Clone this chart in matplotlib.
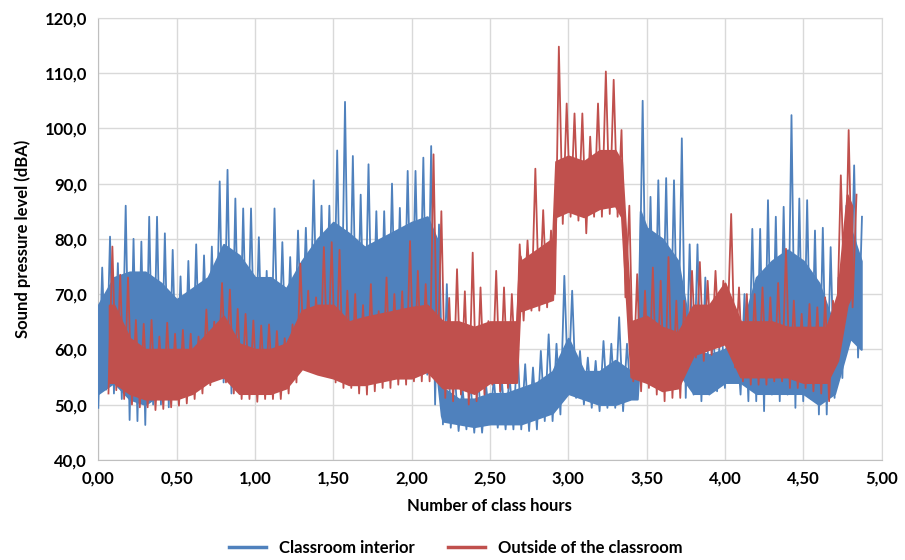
import matplotlib.pyplot as plt
from matplotlib.ticker import FuncFormatter, MultipleLocator

plt.rcParams['font.family'] = ['Lato', 'DejaVu Sans']

# each bin is 0.05 h wide: highest and lowest reading seen in that bin
bin_w = 0.05

blue_start = 0.00
blue_hi = [74.8, 80.4, 75.6, 86.0, 80.0, 79.5, 84.0, 84.0, 81.0, 78.0,
           73.2, 76.0, 79.0, 77.0, 78.6, 90.4, 92.5, 87.3, 85.5, 85.5,
           80.3, 74.2, 85.5, 79.4, 76.7, 81.5, 82.0, 90.6, 86.0, 86.0,
           96.0, 104.8, 95.0, 88.0, 93.5, 85.0, 85.0, 90.0, 85.6, 92.3,
           92.3, 94.7, 96.8, 82.6, 71.8, 56.0, 53.0, 54.2, 54.8, 53.6,
           54.8, 54.8, 55.5, 61.0, 57.3, 56.7, 59.7, 62.7, 61.0, 73.3,
           70.6, 59.7, 58.5, 57.9, 61.5, 61.0, 65.8, 61.0, 60.0, 105.0,
           87.6, 90.6, 91.0, 90.6, 98.2, 79.0, 79.0, 73.0, 62.7, 66.4,
           67.6, 62.7, 70.0, 81.8, 81.8, 87.0, 84.0, 85.8, 102.4, 87.3,
           87.0, 81.5, 82.0, 78.5, 73.0, 86.0, 93.3, 84.0]
blue_lo = [49.4, 52.7, 52.0, 51.0, 47.2, 47.0, 46.3, 50.0, 50.0, 49.5,
           51.0, 52.0, 52.5, 53.0, 55.0, 55.0, 54.0, 52.0, 54.0, 55.0,
           55.0, 54.0, 54.0, 55.0, 55.0, 57.0, 60.0, 60.0, 58.0, 57.0,
           58.0, 58.0, 57.0, 57.0, 58.0, 58.0, 58.0, 59.0, 59.0, 60.0,
           60.0, 61.0, 55.4, 50.0, 46.4, 45.8, 45.2, 45.5, 44.9, 44.9,
           46.4, 45.8, 45.5, 45.5, 45.5, 45.2, 45.5, 47.0, 47.0, 48.2,
           52.4, 51.2, 50.0, 49.4, 48.8, 49.4, 49.4, 48.8, 51.2, 60.0,
           56.0, 56.0, 57.0, 56.0, 55.5, 51.2, 51.8, 50.6, 51.8, 52.4,
           53.0, 54.8, 51.8, 50.6, 50.6, 48.8, 51.8, 50.6, 51.8, 49.4,
           50.6, 51.0, 48.2, 48.2, 51.2, 54.8, 62.7, 58.5]

red_start = 0.065
red_hi = [78.6, 73.5, 73.0, 65.3, 64.6, 65.3, 62.3, 64.8, 62.8, 63.5,
          62.8, 62.3, 67.2, 65.0, 72.0, 70.8, 67.3, 66.4, 65.2, 64.3,
          64.5, 63.3, 62.0, 64.5, 75.5, 70.6, 69.4, 78.5, 79.4, 78.0,
          70.6, 70.0, 68.0, 71.8, 66.9, 73.0, 70.0, 70.5, 79.6, 74.2,
          71.8, 95.3, 85.0, 69.3, 74.5, 70.5, 77.5, 71.2, 65.1, 74.2,
          71.2, 70.0, 79.0, 79.7, 92.7, 85.2, 81.5, 114.8, 104.5, 102.7,
          102.7, 98.5, 104.5, 110.3, 108.8, 99.7, 86.0, 73.6, 70.6, 74.8,
          72.4, 76.7, 68.8, 68.8, 74.2, 75.8, 72.4, 74.2, 72.4, 84.5,
          71.2, 70.0, 70.0, 71.2, 69.4, 72.0, 78.2, 68.8, 66.4, 68.2,
          67.6, 69.4, 68.8, 91.5, 99.7, 88.0]
red_lo = [52.0, 52.6, 51.0, 50.0, 49.5, 49.5, 49.0, 49.2, 49.5, 49.8,
          50.2, 51.0, 52.0, 53.5, 55.0, 54.0, 52.0, 51.0, 51.0, 50.5,
          51.0, 51.0, 51.0, 52.0, 54.0, 57.0, 57.0, 56.0, 56.0, 54.0,
          53.0, 53.0, 52.0, 51.8, 52.4, 53.0, 53.0, 53.6, 53.6, 54.2,
          54.2, 54.2, 54.8, 51.2, 50.6, 51.8, 50.0, 50.6, 51.8, 53.6,
          52.4, 53.0, 54.8, 65.2, 67.0, 67.0, 67.6, 70.0, 82.7, 84.0,
          83.3, 81.0, 84.0, 84.0, 84.5, 84.0, 69.4, 54.2, 52.4, 53.0,
          51.8, 50.6, 51.2, 51.2, 59.0, 58.5, 57.9, 59.0, 60.3, 62.0,
          56.7, 54.2, 53.6, 53.6, 53.6, 54.2, 54.2, 53.0, 53.0, 53.0,
          52.4, 52.0, 50.6, 62.7, 66.4, 67.6]

# dense core of each trace (solid part under the spikes)
blue_core_x = [0.0, 0.1, 0.2, 0.3, 0.4, 0.5, 0.6, 0.7, 0.8, 0.9,
               1.0, 1.1, 1.2, 1.3, 1.4, 1.5, 1.6, 1.7, 1.8, 1.9,
               2.0, 2.1, 2.16, 2.19, 2.2, 2.3, 2.4, 2.5, 2.6, 2.7,
               2.8, 2.9, 3.0, 3.1, 3.2, 3.3, 3.4, 3.44, 3.46, 3.5,
               3.6, 3.7, 3.8, 3.9, 4.0, 4.1, 4.2, 4.3, 4.4, 4.5,
               4.6, 4.7, 4.8, 4.87]
blue_core_top = [68, 73, 74, 74, 72, 69, 71, 73, 79, 77,
                 73, 73, 71, 76, 80, 83, 81, 78.5, 80, 81.5,
                 83, 84, 80, 54, 53, 51, 51, 52, 52, 53,
                 54, 56, 62, 56, 56, 58, 56, 57, 85, 82,
                 80, 76, 60, 59, 60, 63, 73, 76, 78, 76,
                 72, 64, 82, 76]
blue_core_bot = [52, 54, 51, 50, 52, 53, 54, 55, 57, 56,
                 56, 55, 56, 58, 60, 60, 59, 59, 60, 61,
                 62, 60, 56, 48, 47, 46.5, 46, 46.5, 46.5, 46.5,
                 47.5, 48.5, 52, 51, 50, 50, 51, 51, 60, 59,
                 57, 56, 52, 52, 54, 54, 52, 52, 52, 52,
                 50, 52, 62, 60]

red_core_x = [0.07, 0.1, 0.2, 0.3, 0.4, 0.5, 0.6, 0.7, 0.8, 0.9,
              1.0, 1.1, 1.2, 1.3, 1.4, 1.5, 1.6, 1.7, 1.8, 1.9,
              2.0, 2.1, 2.2, 2.3, 2.4, 2.5, 2.6, 2.67, 2.69, 2.7,
              2.8, 2.9, 2.92, 3.0, 3.1, 3.2, 3.3, 3.34, 3.4, 3.5,
              3.6, 3.7, 3.8, 3.9, 4.0, 4.1, 4.2, 4.3, 4.4, 4.5,
              4.6, 4.65, 4.72, 4.78, 4.81]
red_core_top = [68, 68, 62, 60, 60, 60, 60, 63, 66, 61,
                60, 60, 61, 67, 68, 68, 65, 65.8, 66.4, 67,
                67.6, 68, 65, 65, 64, 65, 65, 65, 77, 76,
                78, 80, 94, 95, 94, 96, 96, 94, 65, 66,
                64, 63, 68, 68, 72, 65, 65, 65, 64, 64,
                64, 64, 70, 88, 86]
red_core_bot = [54, 54, 52, 51, 51, 51, 52, 54, 55, 52,
                52, 52, 53, 56.5, 55.5, 54.8, 53.6, 53.6, 54.2, 54.8,
                54.8, 56, 53, 53, 52, 54, 54, 54, 67, 67,
                68, 69, 84, 85, 84, 85.5, 86, 84, 55, 54,
                52.5, 53, 59, 60, 61, 55, 55, 55, 55, 54,
                54, 54, 58, 68, 70]

series_names = ['Classroom interior', 'Outside of the classroom']
series_colors = ['#4F81BD', '#C0504D']
x_ticks_fmt = '{:.2f}'
y_ticks_fmt = '{:.1f}'


def zigzag(start, hi, lo):
    xs = []
    ys = []
    for i in range(len(hi)):
        xs.append(start + i * bin_w)
        ys.append(lo[i])
        xs.append(start + i * bin_w + bin_w / 2)
        ys.append(hi[i])
    return xs, ys


fig = plt.figure(figsize=(9.05, 5.6), dpi=100)
ax = fig.add_axes([0.1086, 0.179, 0.8655, 0.789])

traces = [
    (blue_start, blue_hi, blue_lo, blue_core_x, blue_core_top, blue_core_bot),
    (red_start, red_hi, red_lo, red_core_x, red_core_top, red_core_bot),
]
for k, (st, hi, lo, cx, ctop, cbot) in enumerate(traces):
    ax.fill_between(cx, cbot, ctop, color=series_colors[k], lw=1.5,
                    edgecolor=series_colors[k], zorder=3 + 2 * k)
    zx, zy = zigzag(st, hi, lo)
    ax.plot(zx, zy, color=series_colors[k], lw=1.3, label=series_names[k], zorder=4 + 2 * k)

ax.set_xlim(0, 5)
ax.set_ylim(40, 120)
ax.xaxis.set_major_locator(MultipleLocator(0.5))
ax.yaxis.set_major_locator(MultipleLocator(10))
ax.xaxis.set_major_formatter(FuncFormatter(lambda v, p: x_ticks_fmt.format(v).replace('.', ',')))
ax.yaxis.set_major_formatter(FuncFormatter(lambda v, p: y_ticks_fmt.format(v).replace('.', ',')))
ax.grid(True, color='#d9d9d9', lw=1)
ax.set_axisbelow(True)
for s in ax.spines.values():
    s.set_color('#d9d9d9')
ax.spines['left'].set_color('#bfbfbf')
ax.spines['bottom'].set_color('#bfbfbf')
ax.tick_params(length=0, labelsize=12, pad=8)
for lab in ax.get_xticklabels() + ax.get_yticklabels():
    lab.set_fontweight('bold')

ax.set_xlabel('Number of class hours', fontsize=12, fontweight='bold', labelpad=8)
ax.set_ylabel('Sound pressure level (dBA)', fontsize=12, fontweight='bold', labelpad=10)

leg = fig.legend(loc='center', bbox_to_anchor=(0.504, 0.022), ncol=2, frameon=False,
                 fontsize=12, handlelength=2.2, columnspacing=2.0)
for t in leg.get_texts():
    t.set_fontweight('bold')
for h in leg.legend_handles:
    h.set_linewidth(2.5)

fig.savefig('out.png', dpi=100)
